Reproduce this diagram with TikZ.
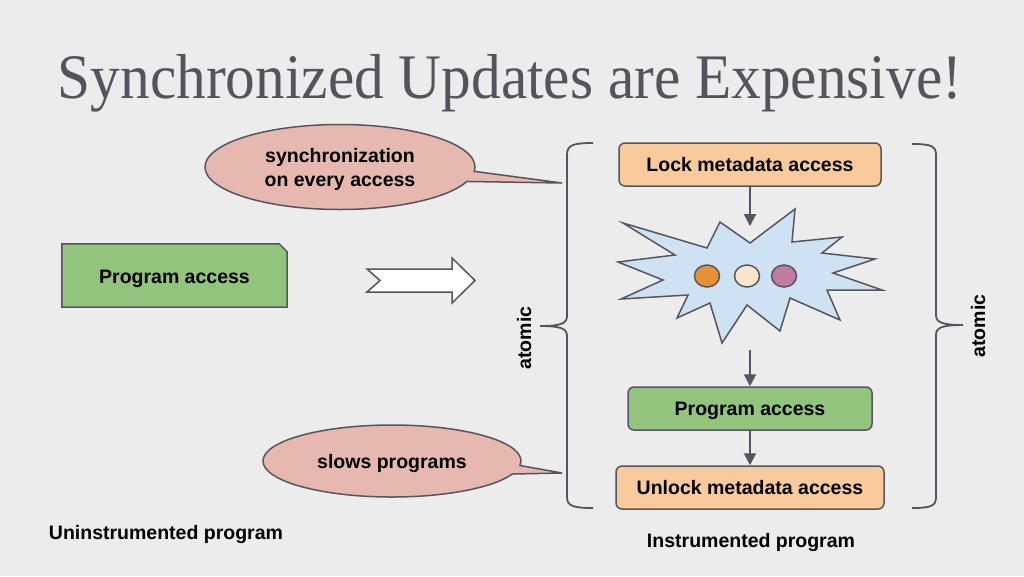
\documentclass[tikz,border=0pt]{standalone}
\usepackage{fontspec}
\setmainfont{Liberation Serif}
\setsansfont{Liberation Sans}
\usetikzlibrary{shapes.callouts,arrows.meta}
\definecolor{bgc}{HTML}{ECECEC}
\definecolor{titlec}{HTML}{56535F}
\definecolor{edgec}{HTML}{55555F}
\definecolor{greenc}{HTML}{93C47D}
\definecolor{orangec}{HTML}{F9CB9C}
\definecolor{pinkc}{HTML}{E6B8AF}
\definecolor{bluec}{HTML}{CFE2F3}
\definecolor{dotorange}{HTML}{E69138}
\definecolor{dotcream}{HTML}{FCE5CD}
\definecolor{dotpurple}{HTML}{C27BA0}
\tikzset{
  lbl/.style={font=\sffamily\bfseries\fontsize{19.5}{24}\selectfont, text=black, align=center, text depth=0pt},
  boxst/.style={lbl, draw=edgec, line width=1.5pt, rounded corners=6pt, inner sep=0pt},
  calloutst/.style={lbl, ellipse callout, draw=edgec, line width=1.5pt, fill=pinkc, inner sep=0pt, callout pointer arc=14},
  arr/.style={draw=edgec, line width=2pt, -{Triangle[length=12pt,width=12pt]}},
  bracest/.style={draw=edgec, line width=1.8pt},
}
\begin{document}
\begin{tikzpicture}[x=1pt,y=-1pt]
\fill[bgc] (0,0) rectangle (1024,576);
\useasboundingbox (0,0) rectangle (1024,576);

% title
\node[font=\fontsize{59.3}{62}\selectfont, text=titlec, anchor=base, inner sep=0pt] (title) at (510,98) {\scalebox{1}[1.07]{Synchronized Updates are Expensive!}};

% callouts
\node[calloutst, minimum width=270pt, minimum height=85pt, callout absolute pointer={(562,183)}] (c1) at (340,167) {synchronization\\on every access};
\node[calloutst, minimum width=258pt, minimum height=72pt, callout absolute pointer={(562,473)}] (c2) at (392,461) {slows programs};

% left program access (snipped corner)
\node[lbl, minimum width=225pt, minimum height=63pt, inner sep=0pt] (pa) at (174.5,275.5) {};
\filldraw[fill=greenc, draw=edgec, line width=1.5pt] (pa.south west) -- (pa.north west) -- ([xshift=-8pt]pa.north east) -- ([yshift=-8pt]pa.north east) -- (pa.south east) -- cycle;
\node[lbl] (patext) at ([yshift=-1.5pt]pa.center) {Program access};

% hollow arrow
\filldraw[fill=white, draw=edgec, line width=1.5pt] (367,269) -- (452,269) -- (452,258) -- (475,280.5) -- (452,303) -- (452,292) -- (367,292) -- (380,280.5) -- cycle;

% right column boxes
\node[boxst, fill=orangec, minimum width=262pt, minimum height=43pt] (lock) at (750,164.5) {Lock metadata access};
\node[boxst, fill=greenc, minimum width=244pt, minimum height=43pt] (prog) at (750,408.5) {Program access};
\node[boxst, fill=orangec, minimum width=268pt, minimum height=43pt] (unlock) at (750,487.5) {Unlock metadata access};

% star
\filldraw[fill=bluec, draw=edgec, line width=1.5pt, line join=miter]
 (750,243) -- (795,209) -- (792,242) -- (842,237) -- (822,253) -- (875,259) -- (833,273) -- (882,290) -- (827,290) -- (840,320) -- (790,298) -- (780,331) -- (747,305) -- (722,343) -- (710,303) -- (677,318) -- (688,295) -- (621,299) -- (663,280) -- (618,262) -- (675,255) -- (623,223) -- (707,248) -- (720,222) -- cycle;
\filldraw[fill=dotorange, draw=edgec, line width=1.5pt] (707,276) ellipse [x radius=12.5pt, y radius=11pt];
\filldraw[fill=dotcream, draw=edgec, line width=1.5pt] (747,276) ellipse [x radius=12.5pt, y radius=11pt];
\filldraw[fill=dotpurple, draw=edgec, line width=1.5pt] (784,276) ellipse [x radius=12.5pt, y radius=11pt];
\coordinate (startop) at (750,226);
\coordinate (starbot) at (750,350);

% arrows
\draw[arr] (lock) -- (startop);
\draw[arr] (starbot) -- (prog);
\draw[arr] (prog) -- (unlock);

% braces
\draw[bracest] (593,143) .. controls (573,143) and (567,145) .. (567,155) -- (567,316) .. controls (567,323) and (562,326) .. (540,326) .. controls (562,326) and (567,329) .. (567,336) -- (567,497) .. controls (567,506) and (573,508) .. (593,508);
\draw[bracest] (912,144) .. controls (931,144) and (936,146) .. (936,155) -- (936,315) .. controls (936,322) and (941,325) .. (963,325) .. controls (941,325) and (936,328) .. (936,335) -- (936,497) .. controls (936,506) and (931,508) .. (912,508);

\node[lbl, rotate=90] (atl) at (524,338) {atomic};
\node[lbl, rotate=90] (atr) at (978,326) {atomic};

% captions
\node[lbl] (unins) at (166,532) {Uninstrumented program};
\node[lbl] (ins) at (751,540) {Instrumented program};
\end{tikzpicture}
\end{document}
